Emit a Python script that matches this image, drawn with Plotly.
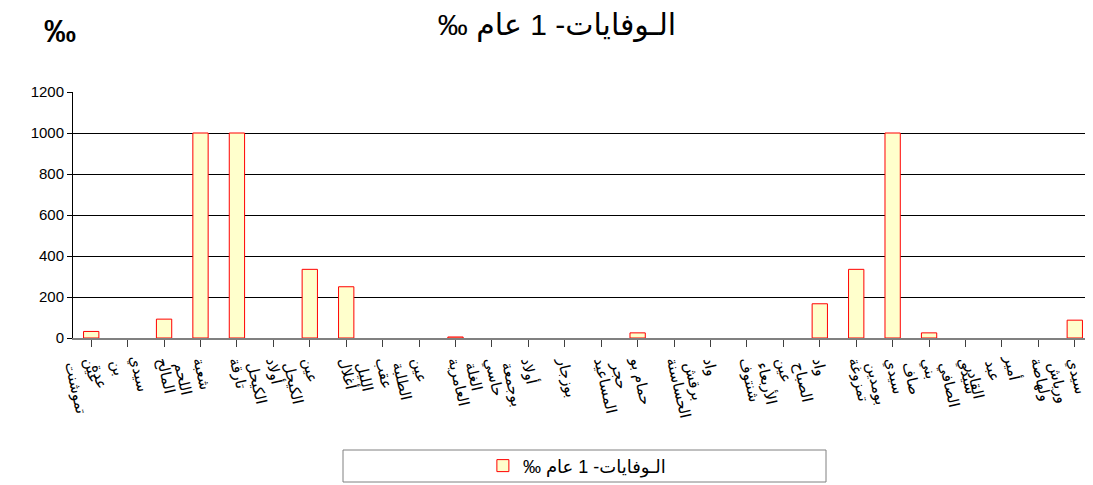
import plotly.graph_objects as go

communes = [
    "عين<br>تموشنت", "سيدي<br>بن<br>عدة", "المالح", "شعبة<br>اللحم", "تارقة",
    "أولاد<br>الكيحل", "عين<br>الكيحل", "أغلال", "عقب<br>الليل", "عين<br>الطلبة",
    "العامرية", "حاسي<br>الغلة", "أولاد<br>بوجمعة", "بوزجار", "المساعيد",
    "حمام بو<br>حجر", "الحساسنة", "واد<br>برقش", "شنتوف", "عين<br>الأربعاء",
    "واد<br>الصباح", "تمزوغة", "سيدي<br>بومدين", "بني<br>صاف", "سيدي<br>الصافي",
    "أمير<br>عبد<br>القادر", "ولهاصة", "سيدي<br>ورياش",
]
deaths = [
    32, 0, 92, 1000, 1000,
    0, 335, 250, 0, 0,
    5, 0, 0, 0, 0,
    25, 0, 0, 0, 0,
    167, 335, 1000, 25, 0,
    0, 0, 87,
]
y_ticks = [0, 200, 400, 600, 800, 1000, 1200]

# RLM keeps the permille sign on the left, as in the RTL original
series_name = "الـوفايات- 1 عام ‰\u200F"

# the page body adds an 8px offset, so the layout is shifted back by 8px
OFF = 8

# a leading blank line moves wrapped labels a little to the left, so the
# first line sits on the tick and the others fall to its left like in the original
tick_text = ["\u00a0<br>" + c if "<br>" in c else c for c in communes]

fig = go.Figure()
fig.add_trace(go.Bar(
    x=list(range(len(communes))),
    y=[v if v else None for v in deaths],  # zero bars are not drawn
    name=series_name,
    width=0.42,
    marker=dict(color="#FFFFCC", line=dict(color="#FF0000", width=1)),
    showlegend=True,
))

fig.update_layout(
    width=1093,
    height=485,
    margin=dict(l=73 - OFF, r=OFF, t=92 - OFF, b=485 - (338 - OFF), autoexpand=False),
    paper_bgcolor="white",
    plot_bgcolor="white",
    font=dict(family="Arial, Liberation Sans, DejaVu Sans", color="black"),
    title=dict(text=series_name, x=(557 - OFF) / 1093, xanchor="center",
               y=1 - (24 - OFF) / 485, yanchor="middle",
               font=dict(size=30, family="Arial, DejaVu Sans"), automargin=False),
    showlegend=True,
    legend=dict(orientation="h", x=0.494, xanchor="center", y=-0.52, yanchor="middle",
                font=dict(size=18), bgcolor="rgba(0,0,0,0)"),
    xaxis=dict(
        tickmode="array",
        tickvals=list(range(len(communes))),
        ticktext=tick_text,
        range=[-0.5, len(communes) - 0.5],
        tickangle=77,
        tickfont=dict(size=15, family="Arial, DejaVu Sans"),
        ticklabeloverflow="allow",
        showline=True, linecolor="#808080", linewidth=2,
        ticks="outside", ticklen=7, tickcolor="#404040",
        showgrid=False, automargin=False,
    ),
    yaxis=dict(
        range=[0, 1200],
        tickvals=y_ticks,
        tickfont=dict(size=15, family="Arial, Liberation Sans"),
        showline=True, linecolor="black", linewidth=1,
        ticks="outside", ticklen=5, tickcolor="black",
        showgrid=True, gridcolor="black", gridwidth=1,
        zeroline=False, automargin=False,
    ),
)

# boundary ticks between categories
fig.update_xaxes(tickson="boundaries")

fig.add_annotation(text="<b>‰</b>", xref="paper", yref="paper",
                   x=(60 - 73) / 1020, y=(338 - 31) / 246,
                   xanchor="center", yanchor="middle", showarrow=False,
                   font=dict(size=32, family="Arial, Liberation Sans"))

# legend frame
fig.add_shape(type="rect", xref="paper", yref="paper",
              x0=(343 - 73) / 1020, x1=(826 - 73) / 1020,
              y0=(338 - 482) / 246, y1=(338 - 450) / 246,
              line=dict(color="#808080", width=1))

fig.write_html("out.html")
